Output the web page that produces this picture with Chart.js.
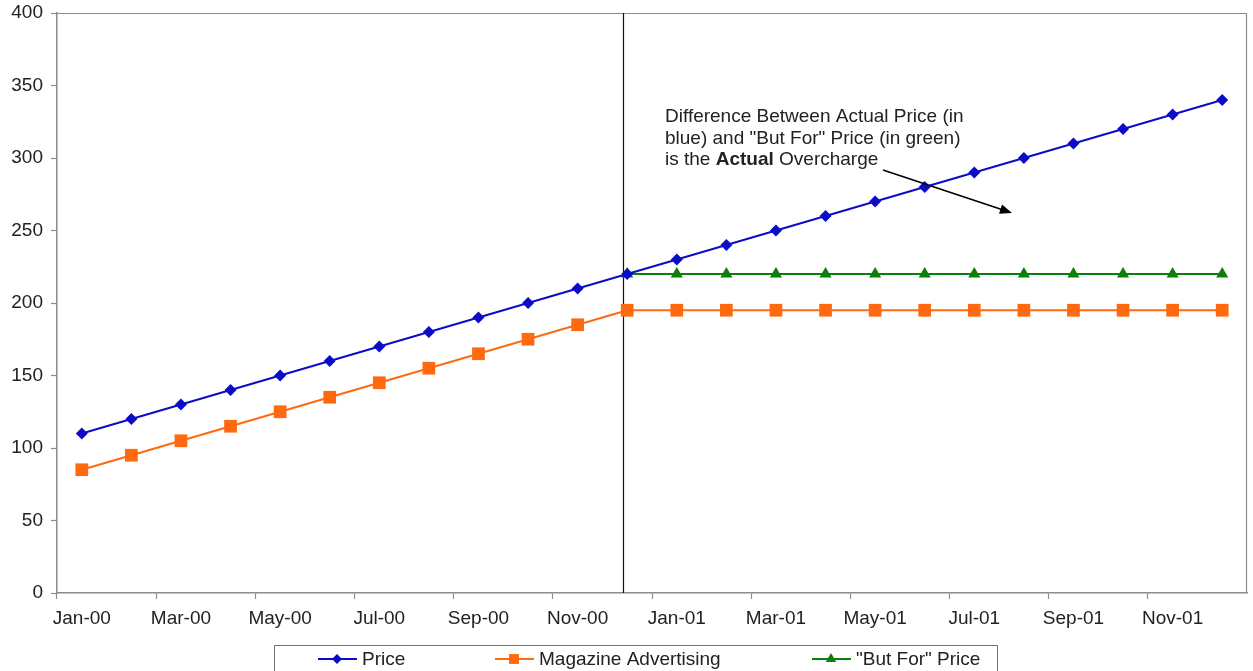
<!DOCTYPE html>
<html>
<head>
<meta charset="utf-8">
<script src="https://cdn.jsdelivr.net/npm/chart.js@4/dist/chart.umd.min.js"></script>
<style>
  html, body { margin: 0; padding: 0; background: #fff; }
  #wrap { width: 1253px; height: 671px; position: relative; }
</style>
</head>
<body>
<div id="wrap"><canvas id="c"></canvas></div>
<script>
// Months on the x axis
const months = ['Jan-00','Feb-00','Mar-00','Apr-00','May-00','Jun-00','Jul-00','Aug-00','Sep-00','Oct-00','Nov-00','Dec-00',
                'Jan-01','Feb-01','Mar-01','Apr-01','May-01','Jun-01','Jul-01','Aug-01','Sep-01','Oct-01','Nov-01','Dec-01'];

// Series values
const price = [110,120,130,140,150,160,170,180,190,200,210,220,230,240,250,260,270,280,290,300,310,320,330,340];
const magazine = [85,95,105,115,125,135,145,155,165,175,185,195,195,195,195,195,195,195,195,195,195,195,195,195];
const butFor = [null,null,null,null,null,null,null,null,null,null,null,220,220,220,220,220,220,220,220,220,220,220,220,220];

// Y axis ticks
const yTicks = [0,50,100,150,200,250,300,350,400];

// Month where the "but for" price begins
const breakMonth = 'Dec-00';

const noteLines = [
  [{t:'Difference Between Actual Price (in', b:false}],
  [{t:'blue) and "But For" Price (in green)', b:false}],
  [{t:'is the ', b:false},{t:'Actual', b:true},{t:' Overcharge', b:false}]
];

const FONT = '"Liberation Sans", Arial, sans-serif';
const FS = 19;
const TXT = '#222';
const AXIS = '#8c8c8c';
const BLUE = '#0c0cc8', ORANGE = '#ff6a10', GREEN = '#0a7f0a';

function marker(ctx, style, x, y, r, color) {
  ctx.save();
  ctx.fillStyle = color;
  ctx.beginPath();
  if (style === 'rectRot') {
    ctx.moveTo(x, y - r); ctx.lineTo(x + r, y); ctx.lineTo(x, y + r); ctx.lineTo(x - r, y); ctx.closePath();
  } else if (style === 'rect') {
    const s = r * Math.SQRT1_2;
    ctx.rect(x - s, y - s, 2 * s, 2 * s);
  } else {
    ctx.moveTo(x, y - r); ctx.lineTo(x + r * 0.87, y + r * 0.5); ctx.lineTo(x - r * 0.87, y + r * 0.5); ctx.closePath();
  }
  ctx.fill();
  ctx.restore();
}

const decor = {
  id: 'decor',
  beforeDatasetsDraw(chart) {
    const {ctx, chartArea: a, scales} = chart;
    ctx.save();
    // frame on top and right
    ctx.strokeStyle = AXIS; ctx.lineWidth = 1.2;
    ctx.beginPath();
    ctx.moveTo(a.left, a.top + 0.5); ctx.lineTo(a.right - 0.5, a.top + 0.5); ctx.lineTo(a.right - 0.5, a.bottom);
    ctx.stroke();
    // vertical separator at the break month
    const xb = scales.x.getPixelForValue(months.indexOf(breakMonth)) - 4;
    ctx.strokeStyle = '#111'; ctx.lineWidth = 1.2;
    ctx.beginPath(); ctx.moveTo(Math.round(xb) + 0.5, a.top); ctx.lineTo(Math.round(xb) + 0.5, a.bottom); ctx.stroke();
    ctx.restore();
  },
  afterDraw(chart) {
    const {ctx, chartArea: a} = chart;
    ctx.save();
    // annotation text
    ctx.fillStyle = TXT; ctx.textBaseline = 'middle';
    const tx = a.left + 608, ty = a.top + 104, lh = 21.5;
    noteLines.forEach((line, i) => {
      let x = tx;
      line.forEach(seg => {
        ctx.font = (seg.b ? 'bold ' : '') + FS + 'px ' + FONT;
        ctx.fillText(seg.t, x, ty + i * lh);
        x += ctx.measureText(seg.t).width;
      });
    });
    // arrow
    const x1 = a.left + 826, y1 = a.top + 157, x2 = a.left + 955, y2 = a.top + 200;
    ctx.strokeStyle = '#000'; ctx.fillStyle = '#000'; ctx.lineWidth = 1.6;
    ctx.beginPath(); ctx.moveTo(x1, y1); ctx.lineTo(x2 - 8, y2 - 2.7); ctx.stroke();
    const ang = Math.atan2(y2 - y1, x2 - x1);
    ctx.beginPath();
    ctx.moveTo(x2, y2);
    ctx.lineTo(x2 - 13 * Math.cos(ang - 0.38), y2 - 13 * Math.sin(ang - 0.38));
    ctx.lineTo(x2 - 13 * Math.cos(ang + 0.38), y2 - 13 * Math.sin(ang + 0.38));
    ctx.closePath(); ctx.fill();

    // legend box
    ctx.strokeStyle = '#777'; ctx.lineWidth = 1;
    ctx.strokeRect(274.5, 645.5, 723, 40);
    const items = [
      {label: chart.data.datasets[0].label, color: BLUE, style: 'rectRot', r: 5, x: 318},
      {label: chart.data.datasets[1].label, color: ORANGE, style: 'rect', r: 7, x: 495},
      {label: chart.data.datasets[2].label, color: GREEN, style: 'triangle', r: 6, x: 812}
    ];
    const ly = 659;
    ctx.font = FS + 'px ' + FONT; ctx.textBaseline = 'middle';
    items.forEach(it => {
      ctx.strokeStyle = it.color; ctx.lineWidth = 2;
      ctx.beginPath(); ctx.moveTo(it.x, ly); ctx.lineTo(it.x + 39, ly); ctx.stroke();
      marker(ctx, it.style, it.x + 19, ly, it.r, it.color);
      ctx.fillStyle = TXT;
      ctx.fillText(it.label, it.x + 44, ly + 1);
    });
    ctx.restore();
  }
};

new Chart(document.getElementById('c'), {
  type: 'line',
  data: {
    labels: months,
    datasets: [
      {label: 'Price', data: price, borderColor: BLUE, backgroundColor: BLUE, borderWidth: 2,
       pointStyle: 'rectRot', pointRadius: 6, pointBorderWidth: 0},
      {label: 'Magazine Advertising', data: magazine, borderColor: ORANGE, backgroundColor: ORANGE, borderWidth: 2,
       pointStyle: 'rect', pointRadius: 9, pointBorderWidth: 0},
      {label: '"But For" Price', data: butFor, borderColor: GREEN, backgroundColor: GREEN, borderWidth: 2,
       pointStyle: 'triangle', pointRadius: 7, pointBorderWidth: 0}
    ]
  },
  options: {
    responsive: true,
    maintainAspectRatio: false,
    animation: false,
    layout: {autoPadding: false, padding: {top: 13, right: 6, left: 0, bottom: 0}},
    plugins: {legend: {display: false}, tooltip: {enabled: false}},
    elements: {line: {tension: 0}},
    scales: {
      x: {
        offset: true,
        afterFit(s) { s.height = 78; s.paddingLeft = 0; s.paddingRight = 0; },
        grid: {
          offset: true, drawOnChartArea: false, drawTicks: true, tickLength: 6,
          tickColor: ctx => (ctx.index % 2 === 0 ? AXIS : 'rgba(0,0,0,0)'), tickWidth: 1.2
        },
        border: {display: true, color: AXIS, width: 1.5},
        ticks: {
          autoSkip: false, maxRotation: 0, padding: 8, color: TXT,
          font: {family: FONT, size: FS},
          callback: (v, i) => (i % 2 === 0 ? months[i] : '')
        }
      },
      y: {
        min: 0, max: 400,
        afterFit(s) { s.width = 57; s.paddingTop = 0; s.paddingBottom = 0; },
        afterBuildTicks(s) { s.ticks = yTicks.map(v => ({value: v})); },
        grid: {drawOnChartArea: false, drawTicks: true, tickLength: 6, tickColor: AXIS, tickWidth: 1.2},
        border: {display: true, color: AXIS, width: 1.5},
        ticks: {padding: 8, color: TXT, font: {family: FONT, size: FS}}
      }
    }
  },
  plugins: [decor]
});
</script>
</body>
</html>
